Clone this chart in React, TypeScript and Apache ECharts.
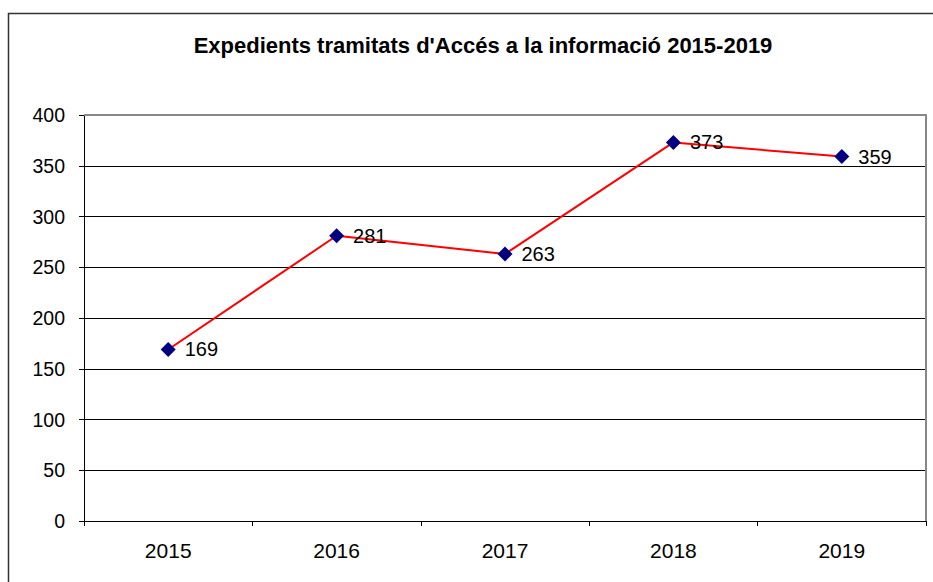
import React, { useEffect, useRef } from "react";
import * as echarts from "echarts";

const years = ["2015", "2016", "2017", "2018", "2019"];
const values = [169, 281, 263, 373, 359];
const titleText = "Expedients tramitats d'Accés a la informació 2015-2019";

export default function App() {
  const ref = useRef<HTMLDivElement>(null);
  useEffect(() => {
    const chart = echarts.init(ref.current!, null, { renderer: "svg" });
    const font = "Liberation Sans, Arial, sans-serif";
    chart.setOption({
      animation: false,
      backgroundColor: "#fff",
      title: {
        text: titleText,
        left: 478,
        textAlign: "center",
        top: 29,
        textStyle: { fontFamily: font, fontWeight: "bold", fontSize: 22, color: "#000" },
      },
      grid: { left: 84, right: 7, top: 115, bottom: 61, containLabel: false },
      xAxis: {
        type: "category",
        data: years,
        boundaryGap: true,
        axisLine: { lineStyle: { color: "#000", width: 1 } },
        axisTick: { show: true, length: 5, inside: false, lineStyle: { color: "#000" } },
        axisLabel: { fontFamily: font, fontSize: 21, color: "#000", margin: 19 },
        splitLine: { show: false },
      },
      yAxis: {
        type: "value",
        min: 0,
        max: 400,
        interval: 50,
        axisLine: { show: true, lineStyle: { color: "#000", width: 1 } },
        axisTick: { show: true, length: 5, lineStyle: { color: "#000" } },
        axisLabel: { fontFamily: font, fontSize: 19.5, color: "#000", margin: 19 },
        splitLine: {
          show: true,
          lineStyle: {
            color: ["#000", "#000", "#000", "#000", "#000", "#000", "#000", "#000", "#888"],
            width: 1,
          },
        },
      },
      graphic: [
        {
          type: "rect",
          shape: { x: 8.5, y: 13.5, width: 1000, height: 700 },
          style: { fill: "none", stroke: "#333", lineWidth: 1.5 },
          silent: true,
          z: -1,
        },
        {
          type: "line",
          shape: { x1: 84, y1: 115, x2: 926, y2: 115 },
          style: { stroke: "#888", lineWidth: 2 },
          z: 10,
        },
        {
          type: "line",
          shape: { x1: 926, y1: 114, x2: 926, y2: 521 },
          style: { stroke: "#888", lineWidth: 2 },
          z: 10,
        },
      ],
      series: [
        {
          type: "line",
          data: values,
          symbol: "diamond",
          symbolSize: 15,
          itemStyle: { color: "#000080" },
          lineStyle: { color: "#ff0000", width: 2 },
          z: 20,
          label: {
            show: true,
            position: "right",
            distance: 9,
            fontFamily: font,
            fontSize: 20,
            color: "#000",
          },
        },
      ],
    });
    return () => chart.dispose();
  }, []);
  return (
    <div
      ref={ref}
      style={{ position: "absolute", left: 0, top: 0, width: 933, height: 582 }}
    />
  );
}
